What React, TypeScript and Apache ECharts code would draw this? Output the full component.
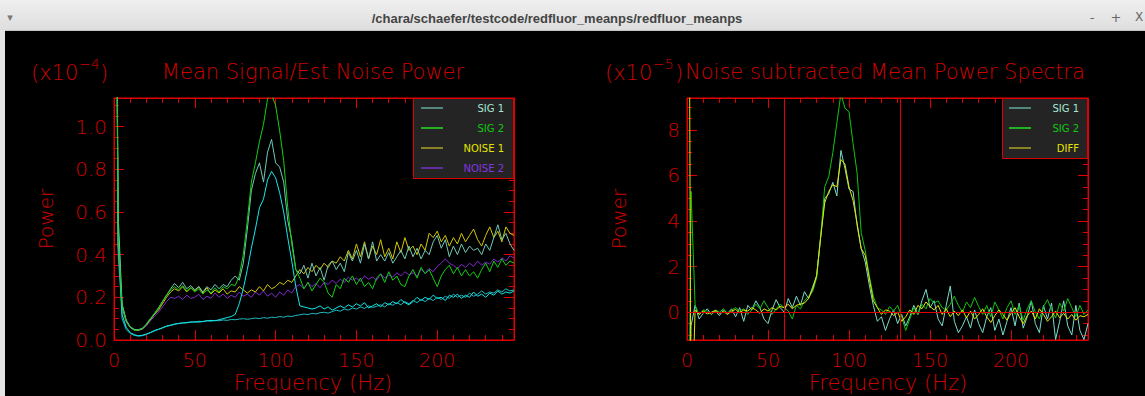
import React, { useEffect, useRef } from 'react';
import * as echarts from 'echarts';

// Frequency grid (Hz)
const FREQ = [
  0, 2.5, 5, 7.5, 10, 12.5, 15, 17.5, 20, 22.5,
  25, 27.5, 30, 32.5, 35, 37.5, 40, 42.5, 45, 47.5,
  50, 52.5, 55, 57.5, 60, 62.5, 65, 67.5, 70, 72.5,
  75, 77.5, 80, 82.5, 85, 87.5, 90, 92.5, 95, 97.5,
  100, 102.5, 105, 107.5, 110, 112.5, 115, 117.5, 120, 122.5,
  125, 127.5, 130, 132.5, 135, 137.5, 140, 142.5, 145, 147.5,
  150, 152.5, 155, 157.5, 160, 162.5, 165, 167.5, 170, 172.5,
  175, 177.5, 180, 182.5, 185, 187.5, 190, 192.5, 195, 197.5,
  200, 202.5, 205, 207.5, 210, 212.5, 215, 217.5, 220, 222.5,
  225, 227.5, 230, 232.5, 235, 237.5, 240, 242.5, 245, 247.5,
];

// Left panel (x1e-4)
const L_SIG1 = [
  4.0, 0.6, 0.17, 0.095, 0.062, 0.05, 0.048, 0.055, 0.074, 0.1,
  0.12, 0.15, 0.18, 0.21, 0.24, 0.265, 0.245, 0.27, 0.24, 0.255,
  0.235, 0.25, 0.225, 0.25, 0.235, 0.26, 0.24, 0.26, 0.25, 0.28,
  0.3, 0.28, 0.36, 0.52, 0.7, 0.78, 0.83, 0.74, 0.88, 0.94,
  0.83, 0.81, 0.74, 0.56, 0.47, 0.33, 0.31, 0.35, 0.29, 0.36,
  0.3, 0.34, 0.28, 0.35, 0.37, 0.33, 0.36, 0.32, 0.41, 0.37,
  0.42, 0.36, 0.45, 0.38, 0.46, 0.37, 0.4, 0.37, 0.41, 0.36,
  0.39, 0.42, 0.38, 0.44, 0.39, 0.43, 0.38, 0.42, 0.4, 0.46,
  0.49, 0.43, 0.47, 0.39, 0.44, 0.4, 0.45, 0.41, 0.44, 0.42,
  0.43, 0.4, 0.45, 0.42, 0.48, 0.54, 0.47, 0.5, 0.45, 0.42,
];
const L_SIG2 = [
  4.0, 0.5, 0.16, 0.09, 0.06, 0.047, 0.046, 0.053, 0.072, 0.1,
  0.125, 0.15, 0.18, 0.21, 0.235, 0.25, 0.235, 0.255, 0.23, 0.245,
  0.225, 0.24, 0.215, 0.235, 0.22, 0.245, 0.225, 0.25, 0.24, 0.26,
  0.255, 0.3, 0.4, 0.56, 0.74, 0.83, 0.93, 1.01, 1.13, 1.15,
  1.1, 0.98, 0.84, 0.62, 0.45, 0.33, 0.29, 0.24, 0.27, 0.23,
  0.26, 0.29, 0.27, 0.22, 0.2, 0.26, 0.24, 0.29, 0.27, 0.3,
  0.26, 0.29, 0.25, 0.27, 0.24, 0.29, 0.31, 0.27, 0.32, 0.28,
  0.3, 0.26, 0.25, 0.3, 0.33, 0.29, 0.34, 0.31, 0.33, 0.29,
  0.25, 0.3, 0.33, 0.35, 0.31, 0.34, 0.3, 0.33, 0.3, 0.32,
  0.29, 0.33, 0.36, 0.32, 0.37, 0.34, 0.38, 0.35, 0.37, 0.36,
];
const L_NOISE1 = [
  4.0, 0.45, 0.16, 0.09, 0.06, 0.048, 0.046, 0.052, 0.07, 0.095,
  0.12, 0.14, 0.17, 0.2, 0.225, 0.24, 0.23, 0.25, 0.225, 0.245,
  0.23, 0.25, 0.22, 0.245, 0.215, 0.235, 0.22, 0.24, 0.215, 0.23,
  0.225, 0.25, 0.235, 0.22, 0.235, 0.225, 0.25, 0.23, 0.26, 0.24,
  0.25, 0.27, 0.26, 0.28, 0.27, 0.3, 0.33, 0.31, 0.34, 0.32,
  0.35, 0.33, 0.36, 0.34, 0.37, 0.36, 0.39, 0.37, 0.42, 0.38,
  0.45, 0.39, 0.46, 0.38, 0.44, 0.4, 0.47, 0.39, 0.43, 0.38,
  0.46, 0.41, 0.48, 0.42, 0.44, 0.4, 0.45, 0.42, 0.5, 0.48,
  0.51, 0.46, 0.49, 0.44, 0.48, 0.45, 0.5, 0.46, 0.49, 0.52,
  0.47, 0.44, 0.49, 0.53, 0.48, 0.51, 0.46, 0.53, 0.5, 0.49,
];
const L_NOISE2 = [
  4.0, 0.4, 0.15, 0.085, 0.058, 0.046, 0.044, 0.05, 0.066, 0.09,
  0.11, 0.13, 0.155, 0.18, 0.2, 0.195, 0.205, 0.19, 0.21, 0.195,
  0.2, 0.215, 0.19, 0.205, 0.195, 0.22, 0.2, 0.215, 0.195, 0.21,
  0.2, 0.225, 0.205, 0.215, 0.2, 0.225, 0.21, 0.23, 0.205, 0.22,
  0.2, 0.225, 0.21, 0.235, 0.22, 0.25, 0.26, 0.24, 0.27, 0.25,
  0.265, 0.245, 0.27, 0.26, 0.28, 0.265, 0.285, 0.27, 0.295, 0.28,
  0.29, 0.275, 0.3, 0.285, 0.295, 0.28, 0.31, 0.29, 0.305, 0.295,
  0.315, 0.3, 0.32, 0.305, 0.315, 0.3, 0.33, 0.315, 0.335, 0.32,
  0.345, 0.36, 0.38, 0.36, 0.35, 0.335, 0.355, 0.34, 0.36, 0.345,
  0.37, 0.35, 0.365, 0.355, 0.38, 0.365, 0.385, 0.37, 0.395, 0.385,
];
const L_CYAN_PEAK = [
  4.0, 0.55, 0.12, 0.06, 0.035, 0.025, 0.02, 0.022, 0.028, 0.035,
  0.045, 0.05, 0.058, 0.065, 0.07, 0.075, 0.078, 0.08, 0.082, 0.085,
  0.084, 0.088, 0.086, 0.09, 0.092, 0.09, 0.095, 0.1, 0.105, 0.11,
  0.12, 0.17, 0.24, 0.33, 0.43, 0.52, 0.62, 0.66, 0.75, 0.79,
  0.76, 0.69, 0.6, 0.48, 0.37, 0.25, 0.16, 0.155, 0.15, 0.145,
  0.15, 0.16, 0.145, 0.155, 0.14, 0.15, 0.16, 0.15, 0.165, 0.155,
  0.17, 0.16, 0.175, 0.15, 0.16, 0.17, 0.155, 0.175, 0.165, 0.18,
  0.17, 0.19, 0.175, 0.165, 0.18, 0.2, 0.185, 0.2, 0.19, 0.21,
  0.195, 0.2, 0.185, 0.21, 0.2, 0.215, 0.195, 0.21, 0.2, 0.225,
  0.205, 0.215, 0.2, 0.22, 0.21, 0.23, 0.215, 0.225, 0.22, 0.23,
];
const L_CYAN_LOW = [
  4.0, 0.45, 0.1, 0.05, 0.03, 0.022, 0.018, 0.02, 0.026, 0.034,
  0.042, 0.05, 0.056, 0.064, 0.068, 0.073, 0.077, 0.08, 0.08, 0.083,
  0.085, 0.083, 0.087, 0.09, 0.088, 0.092, 0.09, 0.094, 0.092, 0.096,
  0.095, 0.098, 0.1, 0.097, 0.1, 0.103, 0.1, 0.105, 0.102, 0.107,
  0.105, 0.11, 0.107, 0.112, 0.11, 0.115, 0.118, 0.122, 0.119, 0.125,
  0.122, 0.128, 0.13, 0.126, 0.133, 0.14, 0.135, 0.145, 0.14, 0.15,
  0.145, 0.155, 0.148, 0.16, 0.152, 0.158, 0.165, 0.155, 0.17, 0.163,
  0.175, 0.165, 0.18, 0.17, 0.185, 0.175, 0.19, 0.18, 0.195, 0.185,
  0.2, 0.19, 0.205, 0.195, 0.215, 0.2, 0.21, 0.2, 0.22, 0.205,
  0.215, 0.23, 0.215, 0.225, 0.22, 0.235, 0.225, 0.24, 0.23, 0.235,
];

// Right panel (x1e-5)
const R_SIG1 = [
  -8, -0.6, 0.3, -0.3, -0.05, 0.15, -0.1, 0.05, -0.15, 0.1,
  -0.05, 0.15, -0.2, 0.2, -0.4, 0.3, 0.1, 0.5, 0.2, -0.3,
  -0.5, 0.1, 0.55, 0.2, 0, 0.6, 0.2, 0.7, 0.3, 0.9,
  0.6, 1.1, 1.6, 3.3, 5.0, 5.2, 5.7, 5.1, 7.1, 6.3,
  5.4, 5.3, 3.8, 2.8, 2.2, 1.2, 0.3, -0.4, -0.2, -0.8,
  -0.3, 0.1, -0.5, -0.1, -0.6, -0.2, 0.3, -0.1, 0.5, 1.0,
  0.2, 0.5, -0.3, -0.6, 0.3, 1.15, -0.4, -0.9, -0.6, -0.2,
  -0.7, 0.1, -0.5, -0.9, -0.2, 0.2, -0.8, -0.3, -1.0, -0.4,
  0.2, -0.6, 0.4, -0.7, -0.2, 0.5, -0.5, -0.9, 0.3, -0.3,
  0.4, -1.2, -0.4, 0.5, -0.6, -1.0, 0.3, -0.8, -1.2, -0.5,
];
const R_SIG2 = [
  -15, 5.3, 0.3, -0.1, 0.1, 0.05, -0.1, 0.1, 0, 0.15,
  -0.05, 0.1, 0.2, 0.05, 0.15, -0.1, 0.1, 0.35, 0.15, 0.5,
  0.2, -0.1, 0.15, 0.35, 0.2, 0.05, -0.3, 0.3, 0.15, 0.5,
  0.7, 0.9, 1.5, 3.3, 5.5, 5.95, 7.0, 8.3, 9.6, 8.95,
  8.8, 7.4, 6.1, 3.5, 2.7, 1.6, 0.7, 0.2, 0.1, -0.1,
  0.25, 0.05, 0.3, -0.2, -0.8, -0.3, 0.2, -0.1, 0.35, 0.15,
  0.6, 0.4, 0.5, 0.2, 0.1, 0.35, 0.7, 0.3, 0, 0.45,
  0.2, 0.65, 0.25, -0.1, 0.3, -0.2, 0.45, 0.1, -0.3, 0.2,
  0.5, -0.1, 0.3, -0.35, 0.15, 0.5, 0, -0.3, 0.25, 0.55,
  0.1, -0.25, 0.4, 0.05, 0.6, 0.2, -0.2, 0.3, -0.1, 0.1,
];
const R_DIFF = [
  40, -6, 0.1, -0.1, 0.05, -0.08, 0, 0.08, -0.05, 0.03,
  -0.1, 0.05, 0.12, -0.02, 0.1, 0.05, 0.2, 0.1, -0.05, 0.15,
  0.05, 0.2, 0.1, 0.25, 0.2, 0.35, 0.15, 0.3, 0.35, 0.4,
  0.6, 1.0, 1.6, 3.3, 4.8, 5.3, 5.6, 5.5, 6.7, 6.5,
  5.5, 4.9, 3.9, 2.8, 2.5, 1.5, 0.5, 0.2, -0.1, 0.1,
  0.05, -0.15, 0, -0.4, -0.2, 0.1, -0.1, 0.3, 0.15, 0.45,
  0.25, 0.1, 0.3, -0.1, 0.15, -0.2, 0.05, -0.15, 0.1, -0.25,
  0.05, -0.3, -0.1, 0.15, -0.2, -0.45, -0.15, 0.1, -0.1, -0.35,
  -0.05, 0.2, -0.2, -0.5, -0.15, 0.05, -0.3, 0.15, -0.1, -0.4,
  -0.2, 0.05, -0.25, -0.05, -0.3, -0.1, -0.35, -0.15, -0.2, -0.1,
];

const ZERO_LEVEL = [0];
const BAND_EDGES = [60.2, 131.8];

const X_RANGE = [0, 247.5];
const L_Y_RANGE = [0, 1.134];
const R_Y_RANGE = [-1.22, 9.4];

const RED = '#e00000';
const TXT = '#d00000';
const FONT = '"DejaVu Sans ExtraLight", "DejaVu Sans", "Liberation Sans", sans-serif';
const FW = 200;

const C = {
  lSig1: '#72c8b6',
  lSig2: '#12d012',
  lNoise1: '#d2c800',
  lNoise2: '#8028d0',
  cyanPeak: '#10e8e8',
  cyanLow: '#20b8c0',
  rSig1: '#78dcc8',
  rSig2: '#10c410',
  rDiff: '#e4e400',
};

function pairs(ys: number[]) {
  return FREQ.map((f, i) => [f, ys[i]]);
}

function baseAxis(grid: number, range: number[], minorSplit: number) {
  return {
    type: 'value',
    gridIndex: grid,
    min: range[0],
    max: range[1],
    splitNumber: 5,
    splitLine: { show: false },
    minorSplitLine: { show: false },
    axisLine: { show: true, onZero: false, lineStyle: { color: RED, width: 1 } },
    axisTick: { show: true, inside: true, length: 10, lineStyle: { color: RED, width: 1 } },
    minorTick: { show: true, splitNumber: minorSplit, length: 5, lineStyle: { color: RED, width: 1 } },
    axisPointer: { show: false },
    silent: true,
  };
}

function xAxesFor(grid: number) {
  return [
    {
      ...baseAxis(grid, X_RANGE, 5),
      position: 'bottom',
      axisLabel: {
        show: true, color: TXT, fontFamily: FONT, fontWeight: FW, fontSize: 19, margin: 20,
        verticalAlign: 'middle', showMaxLabel: false,
        formatter: (v: number) => String(v),
      },
    },
    { ...baseAxis(grid, X_RANGE, 5), position: 'top', axisLabel: { show: false } },
  ];
}

function yAxesFor(grid: number, range: number[], fmt: (v: number) => string, hideMin: boolean) {
  return [
    {
      ...baseAxis(grid, range, 4),
      position: 'left',
      axisLabel: {
        show: true, color: TXT, fontFamily: FONT, fontWeight: FW, fontSize: 20, margin: 7,
        showMaxLabel: false, showMinLabel: hideMin ? false : true,
        formatter: fmt,
      },
    },
    { ...baseAxis(grid, range, 4), position: 'right', axisLabel: { show: false } },
  ];
}

function lineSeries(name: string, ys: number[], color: string, xi: number, yi: number, extra: any = {}) {
  return {
    type: 'line', name, data: pairs(ys), xAxisIndex: xi, yAxisIndex: yi,
    showSymbol: false, symbol: 'none', silent: true, clip: true,
    lineStyle: { color, width: 1 }, itemStyle: { color },
    emphasis: { disabled: true }, animation: false,
    ...extra,
  };
}

function txt(text: string, x: number, y: number, size: number, opts: any = {}, rotation = 0) {
  return {
    type: 'text', x, y, rotation, z: 100, silent: true,
    style: {
      text, fill: TXT, fontFamily: FONT, fontWeight: FW, fontSize: size,
      align: 'left', verticalAlign: 'middle', ...opts,
    },
  };
}

function legend(box: number[], rows: { label: string; line: string; text: string }[], lineX: number[], textRight: number, rowY: number[]) {
  const els: any[] = [
    {
      type: 'rect', z: 100, silent: true,
      shape: { x: box[0], y: box[1], width: box[2], height: box[3] },
      style: { fill: '#242424', stroke: RED, lineWidth: 1 },
    },
  ];
  rows.forEach((r, i) => {
    els.push({
      type: 'line', z: 101, silent: true,
      shape: { x1: lineX[0], y1: rowY[i], x2: lineX[1], y2: rowY[i] },
      style: { stroke: r.line, lineWidth: 1.5 },
    });
    els.push({
      type: 'text', z: 101, silent: true, x: textRight, y: rowY[i],
      style: { text: r.label, fill: r.text, fontFamily: '"DejaVu Sans", sans-serif', fontSize: 10, align: 'right', verticalAlign: 'middle' },
    });
  });
  return els;
}

function buildOption() {
  const markLineStyle = { color: RED, width: 1, type: 'solid', opacity: 1 };
  const graphic: any[] = [
    // window title bar
    { type: 'rect', z: 100, silent: true, shape: { x: 0, y: 0, width: 1145, height: 30 },
      style: { fill: new echarts.graphic.LinearGradient(0, 0, 0, 1, [
        { offset: 0, color: '#efefef' }, { offset: 1, color: '#dedede' }]) } },
    { type: 'line', z: 100, silent: true, shape: { x1: 0, y1: 30.5, x2: 1145, y2: 30.5 }, style: { stroke: '#c4c4c4', lineWidth: 1 } },
    { type: 'rect', z: 100, silent: true, shape: { x: 0, y: 30, width: 5, height: 366 }, style: { fill: '#e4e4e4' } },
    { type: 'text', z: 101, silent: true, x: 557, y: 18,
      style: { text: '/chara/schaefer/testcode/redfluor_meanps/redfluor_meanps', fill: '#444444',
        fontFamily: '"Liberation Sans", sans-serif', fontWeight: 'bold', fontSize: 13, align: 'center', verticalAlign: 'middle' } },
    { type: 'text', z: 101, silent: true, x: 10, y: 17,
      style: { text: '▾', fill: '#777777', fontFamily: '"DejaVu Sans", sans-serif', fontSize: 11, align: 'center', verticalAlign: 'middle' } },
    { type: 'text', z: 101, silent: true, x: 1092, y: 17,
      style: { text: '-', fill: '#666666', fontFamily: '"DejaVu Sans", sans-serif', fontSize: 13, align: 'center', verticalAlign: 'middle' } },
    { type: 'text', z: 101, silent: true, x: 1116, y: 17,
      style: { text: '+', fill: '#666666', fontFamily: '"DejaVu Sans", sans-serif', fontSize: 13, align: 'center', verticalAlign: 'middle' } },
    { type: 'text', z: 101, silent: true, x: 1139, y: 17,
      style: { text: 'X', fill: '#666666', fontFamily: '"DejaVu Sans", sans-serif', fontSize: 12, align: 'center', verticalAlign: 'middle' } },

    // left panel texts
    txt('(x10', 31, 73, 21),
    txt('\u22124', 79, 64, 14),
    txt(')', 100, 73, 21),
    txt('Mean Signal/Est Noise Power', 313, 72, 21, { align: 'center' }),
    txt('Frequency (Hz)', 313, 383, 21, { align: 'center' }),
    txt('Power', 46, 219, 20, { align: 'center' }, Math.PI / 2),

    // right panel texts
    txt('(x10', 605, 73, 21),
    txt('\u22125', 653, 64, 14),
    txt(')', 675, 73, 21),
    txt('Noise subtracted Mean Power Spectra', 685, 72, 21),
    txt('Frequency (Hz)', 888, 383, 21, { align: 'center' }),
    txt('Power', 619, 219, 20, { align: 'center' }, Math.PI / 2),

    ...legend([413.5, 98.5, 100, 80], [
      { label: 'SIG 1', line: '#62aa9a', text: '#a6e6d6' },
      { label: 'SIG 2', line: '#22e022', text: '#10c810' },
      { label: 'NOISE 1', line: '#aaa224', text: '#e6e600' },
      { label: 'NOISE 2', line: '#7430c4', text: '#8434e0' },
    ], [421, 443], 504, [108, 128, 148, 168]),

    ...legend([1002.5, 98.5, 85, 60], [
      { label: 'SIG 1', line: '#62aa9a', text: '#a6e6d6' },
      { label: 'SIG 2', line: '#22e022', text: '#10c810' },
      { label: 'DIFF', line: '#aaa224', text: '#e6e600' },
    ], [1009, 1031], 1079, [108, 128, 148]),
  ];

  return {
    animation: false,
    backgroundColor: '#000000',
    tooltip: { show: false },
    grid: [
      { left: 114, top: 98, width: 400, height: 242, show: true, borderColor: RED, borderWidth: 1, backgroundColor: 'transparent', containLabel: false, outerBoundsMode: 'none' },
      { left: 687, top: 98, width: 401, height: 242, show: true, borderColor: RED, borderWidth: 1, backgroundColor: 'transparent', containLabel: false, outerBoundsMode: 'none' },
    ],
    xAxis: [...xAxesFor(0), ...xAxesFor(1)],
    yAxis: [
      ...yAxesFor(0, L_Y_RANGE, (v: number) => v.toFixed(1), false),
      ...yAxesFor(1, R_Y_RANGE, (v: number) => String(Math.round(v) + 0), true),
    ],
    series: [
      lineSeries('NOISE 2', L_NOISE2, C.lNoise2, 0, 0),
      lineSeries('NOISE 1', L_NOISE1, C.lNoise1, 0, 0),
      lineSeries('low', L_CYAN_LOW, C.cyanLow, 0, 0),
      lineSeries('peak', L_CYAN_PEAK, C.cyanPeak, 0, 0),
      lineSeries('SIG 1', L_SIG1, C.lSig1, 0, 0),
      lineSeries('SIG 2', L_SIG2, C.lSig2, 0, 0),

      lineSeries('SIG 1 ', R_SIG1, C.rSig1, 2, 2),
      lineSeries('SIG 2 ', R_SIG2, C.rSig2, 2, 2),
      lineSeries('DIFF', R_DIFF, C.rDiff, 2, 2, {
        markLine: {
          silent: true, symbol: ['none', 'none'], animation: false, z: 10,
          label: { show: false },
          lineStyle: markLineStyle,
          emphasis: { disabled: true, lineStyle: markLineStyle },
          data: [
            ...ZERO_LEVEL.map((v) => ({ yAxis: v, lineStyle: markLineStyle })),
            ...BAND_EDGES.map((v) => ({ xAxis: v, lineStyle: markLineStyle })),
          ],
        },
      }),
    ],
    graphic,
  };
}

export default function App() {
  const ref = useRef<HTMLDivElement>(null);
  useEffect(() => {
    if (!ref.current) return;
    document.body.style.margin = '0';
    const chart = echarts.init(ref.current, null, { renderer: 'svg', width: 1145, height: 396 });
    chart.setOption(buildOption() as any);
    return () => chart.dispose();
  }, []);
  return (
    <div
      ref={ref}
      style={{ position: 'fixed', left: 0, top: 0, width: 1145, height: 396, background: '#000' }}
    />
  );
}
